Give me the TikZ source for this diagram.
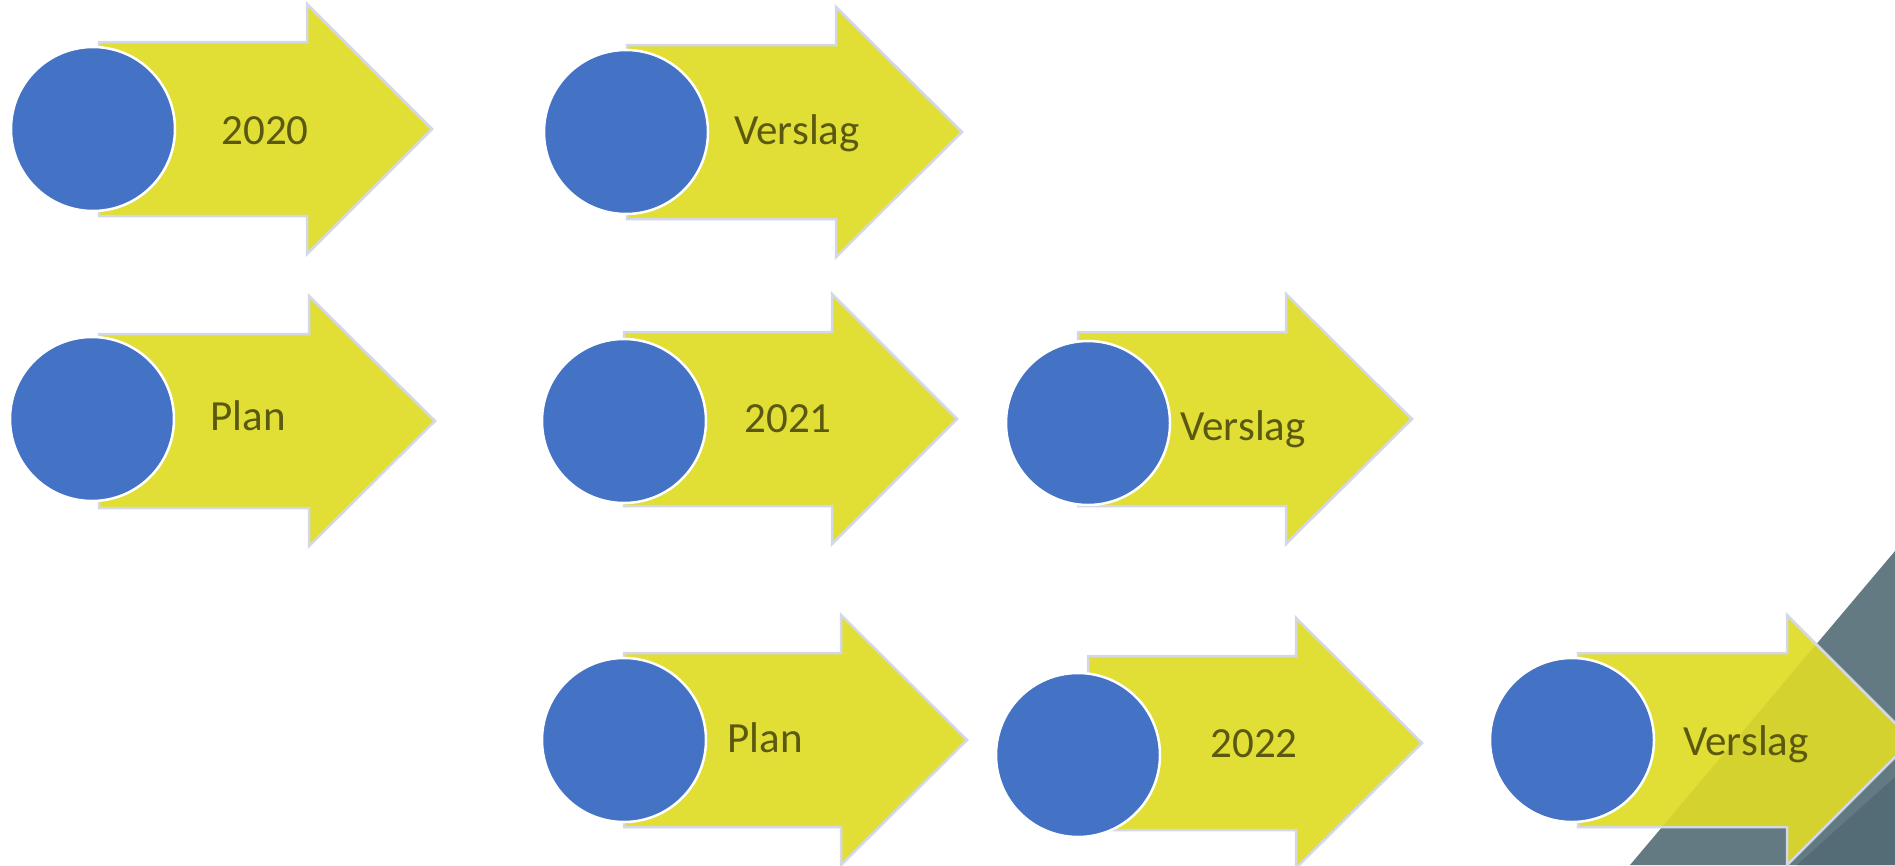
\documentclass[tikz,border=0pt]{standalone}
\usepackage{fontspec}
\setmainfont{Carlito}
\definecolor{arrowyellow}{HTML}{E1DF36}
\definecolor{arrowedge}{HTML}{D3D7E8}
\definecolor{dotblue}{HTML}{4472C4}
\definecolor{labeltext}{HTML}{5B5910}
\definecolor{slate}{HTML}{637A82}
\definecolor{slatedark}{HTML}{546C76}
\definecolor{yellowshade}{HTML}{D4D22E}
\newcommand\chevpath[4]{({#1},{#2-87}) -- ({#3},{#2-87}) -- ({#3},{#2-125}) -- ({#4},{#2}) -- ({#3},{#2+125}) -- ({#3},{#2+87}) -- ({#1},{#2+87}) -- cycle}
\tikzset{
  chevfill/.style={fill=arrowyellow},
  chevline/.style={draw=arrowedge, line width=2.5pt, line join=miter},
  dot/.style={circle, fill=dotblue, draw=white, line width=2.5pt, minimum size=164pt, inner sep=0pt},
  lbl/.style={anchor=base, text=labeltext, font=\fontsize{43}{43}\selectfont, inner sep=0pt}
}
\begin{document}
\begin{tikzpicture}[x=1pt,y=-1pt]
\useasboundingbox (0,0) rectangle (1895,865);
\clip (0,0) rectangle (1895,865);
% background slate shapes
\fill[slate] (1630,865) -- (1895,551) -- (1895,865) -- cycle;
\fill[slatedark] (1797,865) -- (1895,777) -- (1895,865) -- cycle;
% row 1
\path[chevfill,chevline] \chevpath{99}{129}{307}{432};
\node[dot] (c1) at (93,129) {};
\node[lbl] (t1) at (265,144) {2020};
\path[chevfill,chevline] \chevpath{627}{132}{836}{962};
\node[dot] (c2) at (626,132) {};
\node[lbl] (t2) at (797,144) {Verslag};
% row 2
\path[chevfill,chevline] \chevpath{99}{421}{309}{435};
\node[dot] (c3) at (92,419) {};
\node[lbl] (t3) at (248,430) {Plan};
\path[chevfill,chevline] \chevpath{624}{419}{832}{957};
\node[dot] (c4) at (624,421) {};
\node[lbl] (t4) at (788,432) {2021};
\path[chevfill,chevline] \chevpath{1078}{419}{1286}{1412};
\node[dot] (c5) at (1088,423) {};
\node[lbl] (t5) at (1243,440) {Verslag};
% row 3
\path[chevfill,chevline] \chevpath{624}{740}{841}{967};
\node[dot] (c6) at (624,740) {};
\node[lbl] (t6) at (765,752) {Plan};
\path[chevfill,chevline] \chevpath{1088}{743}{1296}{1422};
\node[dot] (c7) at (1078,755) {};
\node[lbl] (t7) at (1254,757) {2022};
\path[chevfill] \chevpath{1578}{740}{1787}{1912};
\begin{scope}
  \clip \chevpath{1578}{740}{1787}{1912};
  \fill[yellowshade] (1630,865) -- (1895,551) -- (1895,865) -- cycle;
\end{scope}
\path[chevline] \chevpath{1578}{740}{1787}{1912};
\node[dot] (c8) at (1572,740) {};
\node[lbl] (t8) at (1746,755) {Verslag};
\end{tikzpicture}
\end{document}
